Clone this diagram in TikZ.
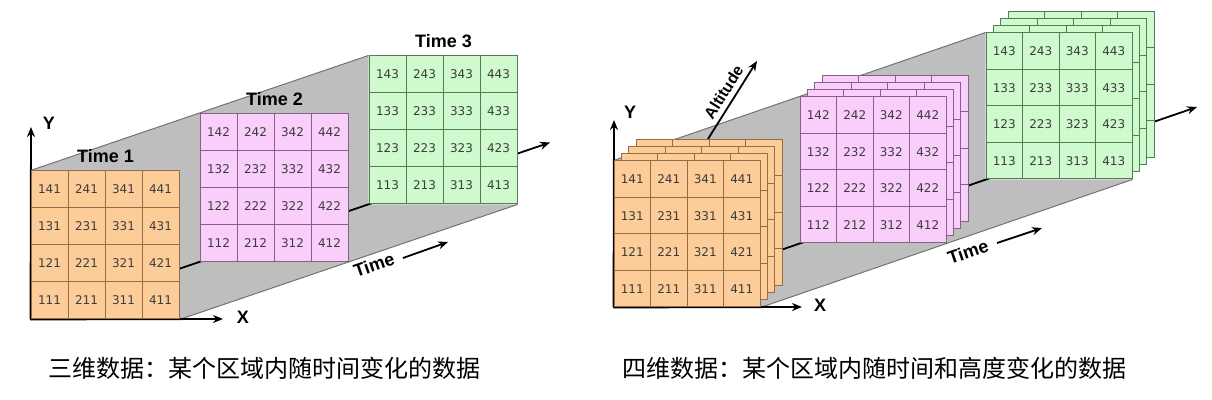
\documentclass[tikz,border=0pt]{standalone}
\usepackage{fontspec}
\setmainfont{Liberation Sans}
\newfontfamily\cellfont{DejaVu Sans}
\newfontfamily\cjk{Noto Sans CJK SC}
\usetikzlibrary{arrows.meta,backgrounds}

\definecolor{cellorange}{RGB}{252,204,153}
\definecolor{lineorange}{RGB}{150,110,70}
\definecolor{cellpink}{RGB}{250,206,250}
\definecolor{linepink}{RGB}{135,95,135}
\definecolor{cellgreen}{RGB}{206,250,206}
\definecolor{linegreen}{RGB}{85,125,85}
\definecolor{celltext}{RGB}{60,60,60}
\definecolor{wall}{RGB}{190,190,190}
\definecolor{walledge}{RGB}{115,115,115}

% #1 prefix, #2 x and #3 y of lower left corner, #4 cell size, #5 style, #6 label
\newcommand{\datagrid}[6]{%
    \foreach \cx in {1,...,4} {
        \foreach \ry in {1,...,4} {
            \node[cell, #5, minimum size={#4*0.5pt}] (#1-\cx\ry)
                at ({#2+(\cx-0.5)*#4}, {#3-(\ry-0.5)*#4}) {#6};
        }
    }
}

\begin{document}
\begin{tikzpicture}
                \tikzset{x=0.5pt, y=-0.5pt}
                \tikzstyle{cell}=[rectangle, draw, line width=0.5pt, inner sep=0pt, text=celltext,
                                  font=\cellfont\fontsize{6}{7}\selectfont]
                \tikzstyle{orange}=[fill=cellorange, draw=lineorange]
                \tikzstyle{pink}=[fill=cellpink, draw=linepink]
                \tikzstyle{green}=[fill=cellgreen, draw=linegreen]
                \tikzstyle{axis}=[line width=0.9pt, -{Stealth[length=5pt, width=4pt]}]
                \tikzstyle{axislabel}=[font=\bfseries\fontsize{9}{10}\selectfont]
                \tikzstyle{timelabel}=[font=\bfseries\fontsize{9}{10}\selectfont]
                \tikzstyle{edge}=[draw=walledge, line width=0.5pt]
                \tikzstyle{caption}=[anchor=west, inner sep=0pt, font=\cjk\fontsize{12}{14}\selectfont]

                \useasboundingbox (0,0) rectangle (1212,400);

                % three dimensions
                \datagrid{A3}{369}{204}{37}{green}{\cx\ry3}
                \datagrid{A2}{200}{261.5}{37}{pink}{\cx\ry2}
                \datagrid{A1}{31}{319}{37}{orange}{\cx\ry1}

                \draw (A1-24.north east) ++(0,-14) node[timelabel] (t1) {Time 1};
                \draw (A2-24.north east) ++(0,-14) node[timelabel] (t2) {Time 2};
                \draw (A3-24.north east) ++(0,-14) node[timelabel] (t3) {Time 3};

                \coordinate (ytipA) at (31,127);
                \coordinate (xtipA) at (223,319);
                \coordinate (ttipA) at (550,142.5);
                \draw (49,123)      node[axislabel] (yA)    {Y};
                \draw (243,317)     node[axislabel] (xA)    {X};
                \draw (374,265)     node[axislabel, rotate=19] (timeA) {Time};
                \coordinate (tarrA0) at (403,258);
                \coordinate (tarrA1) at (448,242);
                \draw [axis]        (tarrA0) -- (tarrA1);

                % four dimensions
                \foreach \k in {3,2,1} {
                    \datagrid{B3k\k}{986+7.4*\k}{179-7.2*\k}{36.5}{green}{}
                }
                \datagrid{B3}{986}{179}{36.5}{green}{\cx\ry3}
                \foreach \k in {3,2,1} {
                    \datagrid{B2k\k}{800+7.4*\k}{243-7.2*\k}{36.5}{pink}{}
                }
                \datagrid{B2}{800}{243}{36.5}{pink}{\cx\ry2}
                \foreach \k in {3,2,1} {
                    \datagrid{B1k\k}{614+7.4*\k}{307-7.2*\k}{36.5}{orange}{}
                }
                \datagrid{B1}{614}{307}{36.5}{orange}{\cx\ry1}

                \coordinate (ytipB) at (614,120);
                \coordinate (xtipB) at (802,307);
                \coordinate (ttipB) at (1197,107);
                \draw (630,112)     node[axislabel] (yB)    {Y};
                \draw (820,305)     node[axislabel] (xB)    {X};
                \draw (968,252)     node[axislabel, rotate=19] (timeB) {Time};
                \coordinate (tarrB0) at (997,243);
                \coordinate (tarrB1) at (1042,228);
                \draw [axis]        (tarrB0) -- (tarrB1);

                \coordinate (altbase) at (708,139);
                \coordinate (alttip) at (757,61);
                \draw [axis]        (altbase) -- node[pos=0.52, sloped, above, inner sep=2.5pt,
                                    font=\bfseries\fontsize{8}{9}\selectfont] (alt) {Altitude} (alttip);

                % walls behind the grids
                \begin{scope}[on background layer]
                    \fill [wall] (A1-14.north west) -- (A3-14.north west) -- (A3-11.south west)
                        -- (A3-41.south east) -- (A1-41.south east) -- (A1-11.south west) -- cycle;
                    \draw [edge] (A1-14.north west) -- (A3-14.north west);
                    \draw [edge] (A1-41.south east) -- (A3-41.south east);
                    \draw [axis] (A1-11.south west) -- (ytipA);
                    \draw [axis] (A1-11.south west) -- (xtipA);
                    \draw [axis] (A1-11.south west) -- (ttipA);

                    \fill [wall] (B1-14.north west) -- (B3-14.north west) -- (B3-11.south west)
                        -- (B3-41.south east) -- (B1-41.south east) -- (B1-11.south west) -- cycle;
                    \draw [edge] (B1-14.north west) -- (B3-14.north west);
                    \draw [edge] (B1-41.south east) -- (B3-41.south east);
                    \draw [axis] (B1-11.south west) -- (ytipB);
                    \draw [axis] (B1-11.south west) -- (xtipB);
                    \draw [axis] (B1-11.south west) -- (ttipB);
                \end{scope}

                % captions
                \draw (48,368)      node[caption] (capA) {三维数据：某个区域内随时间变化的数据};
                \draw (622,368)     node[caption] (capB) {四维数据：某个区域内随时间和高度变化的数据};
            \end{tikzpicture}
\end{document}
